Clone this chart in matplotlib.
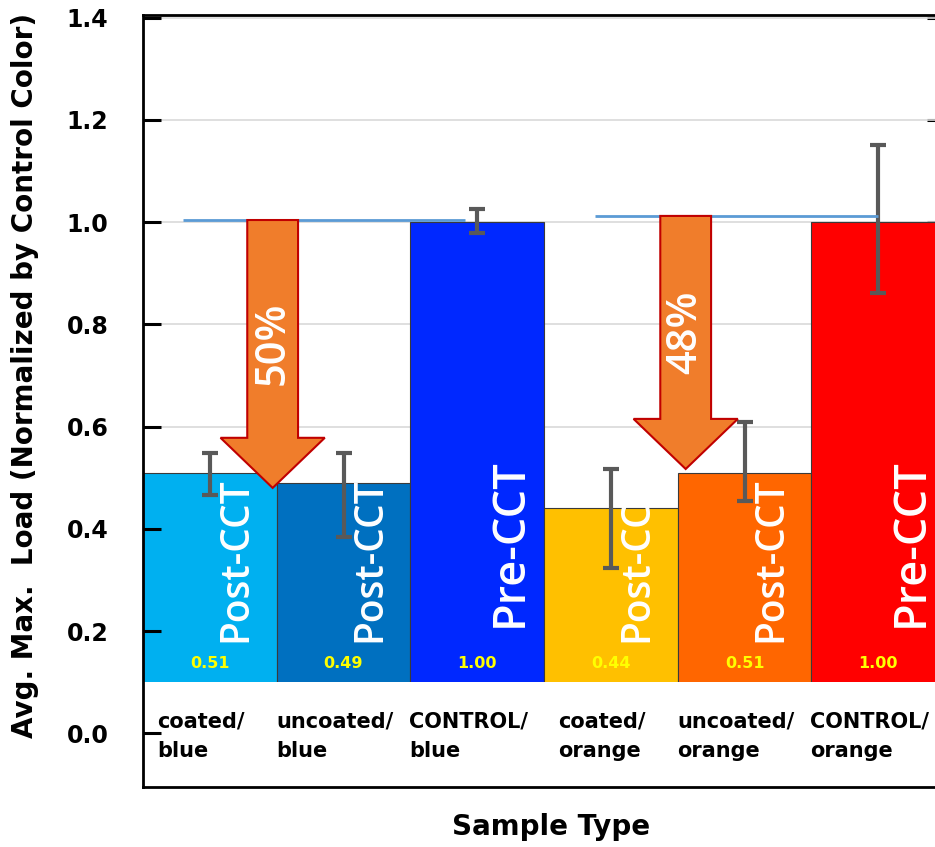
import numpy as np
import matplotlib
matplotlib.use("Agg")
import matplotlib.pyplot as plt
from matplotlib.patches import FancyArrow, Rectangle

# ---- data ----
categories = ["coated/\nblue", "uncoated/\nblue", "CONTROL/\nblue",
              "coated/\norange", "uncoated/\norange", "CONTROL/\norange"]
values = [0.51, 0.49, 1.00, 0.44, 0.51, 1.00]
err_low = [0.044, 0.106, 0.022, 0.117, 0.056, 0.139]
err_high = [0.038, 0.058, 0.025, 0.077, 0.099, 0.151]
stage_labels = ["Post-CCT", "Post-CCT", "Pre-CCT", "Post-CCT", "Post-CCT", "Pre-CCT"]
bar_colors = ["#00B0F0", "#0070C0", "#0028FF", "#FFC000", "#FF6600", "#FF0000"]
reduction_labels = ["50%", "48%"]
yticks = [0.0, 0.2, 0.4, 0.6, 0.8, 1.0, 1.2, 1.4]

AXIS_FONT = "DejaVu Sans"
BAR_FONT = "Open Sans"

W, H = 935, 847
fig = plt.figure(figsize=(W / 100, H / 100), dpi=100)
left, right, top, bottom = 143, 945, 15, 787
ax = fig.add_axes([left / W, 1 - bottom / H, (right - left) / W, (bottom - top) / H])
ax.set_axisbelow(False)

n = len(values)
x = np.arange(n) + 0.5
ax.set_xlim(0, n)
ax.set_ylim(-0.105, 1.405)

# right-hand tick marks sit underneath the bars
ax_r = ax.twinx()
ax_r.set_ylim(ax.get_ylim())
ax_r.set_yticks(yticks)
ax_r.set_yticklabels([])
ax_r.tick_params(axis="y", direction="in", length=13, width=2.2)
for s in ax_r.spines.values():
    s.set_visible(False)
ax_r.set_zorder(ax.get_zorder() - 1)
ax.patch.set_visible(False)

# gridlines behind bars
for t in yticks:
    ax.axhline(t, color="#D9D9D9", lw=1.2, zorder=0)

ax.bar(x, values, width=1.0, color=bar_colors, edgecolor="#3A3A3A",
       linewidth=0.8, zorder=2)
ax.errorbar(x, values, yerr=[err_low, err_high], fmt="none", ecolor="#595959",
            elinewidth=3, capsize=6, capthick=3, zorder=4)

# white band under the bars that holds the category names
ax.add_patch(Rectangle((0, -0.2), n, 0.3, facecolor="white", edgecolor="none",
                       zorder=2.2))

for xi, v in zip(x, values):
    ax.text(xi, 0.137, f"{v:.2f}", ha="center", va="center", color="#FFFF00",
            fontsize=11.5, fontweight="bold", family=AXIS_FONT, zorder=5)

for xi, lab in zip(x, stage_labels):
    big = lab.startswith("Pre")
    ax.text(xi + (0.25 if big else 0.2), 0.207 if big else 0.178, lab,
            rotation=90, ha="center", va="bottom", color="white",
            fontsize=32.5 if big else 28, fontweight="semibold",
            family=BAR_FONT, zorder=5)

for xi, lab in zip(x, categories):
    ax.text(xi - 0.065, -0.006, lab, ha="center", va="center",
            multialignment="left", fontsize=15, fontweight="bold",
            family=AXIS_FONT, linespacing=1.55, zorder=5)

# reference lines at the control level and reduction arrows
ref_specs = [(0.30, 2.41, values[2] + 0.004, 0.97, values[1] - 0.01),
             (3.38, 5.50, values[5] + 0.012, 4.06, values[4] + 0.007)]
for (x0, x1, yref, xa, ytip), pct in zip(ref_specs, reduction_labels):
    ax.plot([x0, x1], [yref, yref], color="#5B9BD5", lw=2, zorder=4,
            solid_capstyle="butt")
    ax.add_patch(FancyArrow(xa, yref, 0, ytip - yref, width=0.38,
                            head_width=0.78, head_length=0.098,
                            length_includes_head=True, facecolor="#F07D2B",
                            edgecolor="#C00000", linewidth=1.5, zorder=6))
    ax.text(xa, (yref + ytip) / 2 + 0.02, pct, rotation=90, ha="center",
            va="center", color="white", fontsize=30, fontweight="semibold",
            family=BAR_FONT, zorder=7)

# axes styling
ax.set_xticks([])
ax.set_yticks(yticks)
ax.set_yticklabels([f"{t:.1f}" for t in yticks], fontsize=17,
                   fontweight="bold", family=AXIS_FONT)
ax.tick_params(axis="y", direction="in", length=13, width=2.2, pad=25,
               right=False, left=True)
for s in ax.spines.values():
    s.set_linewidth(2)
    s.set_color("black")

fig.text(25 / W, 1 - 375 / H, "Avg. Max.  Load (Normalized by Control Color)",
         rotation=90, ha="center", va="center", fontsize=20, fontweight="bold",
         family=AXIS_FONT)
fig.text(551 / W, 1 - 827 / H, "Sample Type", ha="center", va="center",
         fontsize=20, fontweight="bold", family=AXIS_FONT)

fig.savefig("out.png", dpi=100)
